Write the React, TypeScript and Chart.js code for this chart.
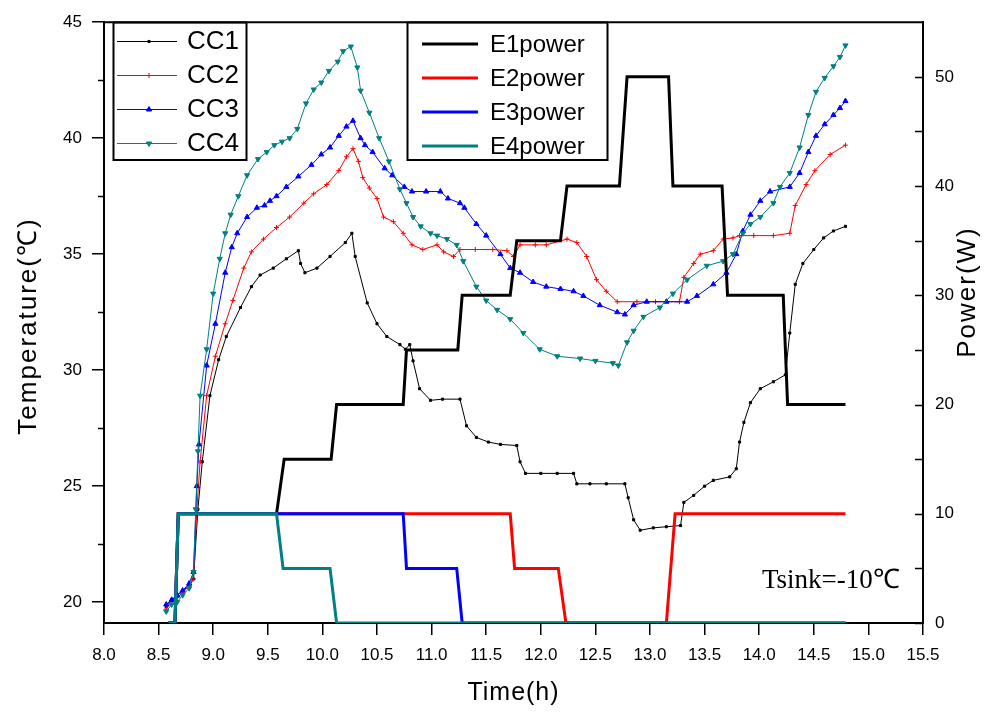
import React, { useEffect, useRef } from "react";
import { Chart, registerables } from "chart.js";
import { drawPoint } from "chart.js/helpers";

Chart.register(...registerables);

// Evaporator temperatures (℃) against time of day (h)
const cc1Time = [8.57, 8.62, 8.67, 8.72, 8.78, 8.82, 8.86, 8.9, 8.97, 9.05, 9.12, 9.25, 9.35, 9.43, 9.55, 9.67, 9.78, 9.8, 9.84, 9.95, 10.07, 10.21, 10.27, 10.3, 10.41, 10.5, 10.59, 10.71, 10.76, 10.8, 10.83, 10.89, 10.99, 11.1, 11.26, 11.32, 11.41, 11.52, 11.63, 11.78, 11.81, 11.86, 12.0, 12.15, 12.3, 12.33, 12.45, 12.6, 12.77, 12.8, 12.85, 12.91, 13.03, 13.15, 13.28, 13.31, 13.4, 13.5, 13.58, 13.73, 13.79, 13.82, 13.86, 13.92, 14.01, 14.13, 14.24, 14.28, 14.33, 14.4, 14.5, 14.59, 14.68, 14.79];
const cc1Temp = [19.8, 20.1, 20.3, 20.5, 20.7, 21.0, 24.0, 26.05, 28.9, 30.45, 31.45, 32.7, 33.6, 34.1, 34.4, 34.8, 35.15, 34.6, 34.2, 34.4, 34.9, 35.5, 35.9, 34.9, 32.9, 32.0, 31.45, 31.1, 30.9, 31.1, 30.4, 29.2, 28.7, 28.75, 28.75, 27.6, 27.1, 26.9, 26.8, 26.75, 26.05, 25.55, 25.55, 25.55, 25.55, 25.1, 25.1, 25.1, 25.1, 24.5, 23.55, 23.1, 23.2, 23.25, 23.3, 24.3, 24.6, 25.0, 25.25, 25.4, 25.75, 26.9, 27.75, 28.6, 29.2, 29.5, 29.8, 31.6, 33.7, 34.6, 35.2, 35.7, 36.0, 36.2];

const cc2Time = [8.57, 8.62, 8.67, 8.72, 8.78, 8.82, 8.85, 8.88, 8.94, 9.02, 9.11, 9.18, 9.28, 9.35, 9.46, 9.58, 9.7, 9.83, 9.92, 10.04, 10.15, 10.22, 10.28, 10.33, 10.37, 10.43, 10.5, 10.56, 10.65, 10.74, 10.82, 10.92, 11.05, 11.11, 11.2, 11.26, 11.4, 11.56, 11.69, 11.75, 11.81, 11.95, 12.05, 12.24, 12.33, 12.42, 12.51, 12.6, 12.7, 12.88, 13.05, 13.27, 13.31, 13.4, 13.46, 13.58, 13.67, 13.76, 13.82, 13.95, 14.13, 14.28, 14.33, 14.43, 14.51, 14.65, 14.79];
const cc2Temp = [19.7, 20.0, 20.2, 20.4, 20.7, 21.0, 24.0, 26.05, 28.9, 30.6, 32.0, 33.0, 34.4, 35.1, 35.65, 36.15, 36.6, 37.2, 37.6, 38.0, 38.6, 39.2, 39.55, 39.0, 38.3, 37.85, 37.4, 36.6, 36.4, 35.9, 35.4, 35.2, 35.4, 35.1, 34.9, 35.2, 35.2, 35.2, 35.15, 34.9, 35.4, 35.4, 35.4, 35.65, 35.5, 34.9, 33.9, 33.4, 32.95, 32.95, 32.95, 32.95, 34.0, 34.6, 35.0, 35.15, 35.65, 35.7, 35.8, 35.8, 35.8, 35.9, 37.1, 38.0, 38.6, 39.3, 39.7];

const cc3Time = [8.57, 8.62, 8.67, 8.72, 8.78, 8.82, 8.85, 8.87, 8.94, 9.02, 9.11, 9.17, 9.22, 9.31, 9.4, 9.47, 9.52, 9.58, 9.67, 9.78, 9.9, 9.99, 10.07, 10.15, 10.22, 10.28, 10.35, 10.39, 10.46, 10.57, 10.64, 10.75, 10.82, 10.95, 11.08, 11.15, 11.26, 11.3, 11.41, 11.5, 11.63, 11.72, 11.81, 11.93, 12.05, 12.18, 12.3, 12.39, 12.54, 12.7, 12.77, 12.85, 12.97, 13.15, 13.34, 13.43, 13.58, 13.7, 13.79, 13.85, 13.92, 14.01, 14.1, 14.28, 14.37, 14.45, 14.52, 14.6, 14.68, 14.74, 14.79];
const cc3Temp = [19.9, 20.1, 20.3, 20.5, 20.8, 21.3, 25.0, 26.8, 30.2, 32.0, 34.2, 35.3, 35.9, 36.6, 37.0, 37.1, 37.3, 37.5, 37.9, 38.35, 38.85, 39.3, 39.6, 40.1, 40.5, 40.75, 40.0, 39.7, 39.4, 38.7, 38.4, 37.9, 37.7, 37.7, 37.7, 37.4, 37.2, 37.0, 36.3, 35.8, 35.0, 34.4, 34.2, 33.8, 33.6, 33.5, 33.4, 33.2, 32.8, 32.5, 32.4, 32.8, 32.95, 32.95, 32.95, 33.2, 33.7, 34.2, 35.0, 36.0, 36.7, 37.3, 37.7, 37.9, 38.5, 39.4, 40.1, 40.6, 41.0, 41.3, 41.6];

const cc4Time = [8.57, 8.62, 8.67, 8.72, 8.78, 8.82, 8.84, 8.86, 8.88, 8.94, 9.0, 9.06, 9.11, 9.16, 9.23, 9.31, 9.41, 9.49, 9.56, 9.63, 9.7, 9.77, 9.85, 9.92, 9.99, 10.06, 10.14, 10.19, 10.26, 10.32, 10.35, 10.43, 10.52, 10.61, 10.71, 10.77, 10.83, 10.9, 10.99, 11.05, 11.14, 11.23, 11.29, 11.41, 11.5, 11.6, 11.72, 11.84, 11.99, 12.15, 12.36, 12.5, 12.66, 12.71, 12.79, 12.85, 12.94, 13.09, 13.21, 13.34, 13.52, 13.67, 13.76, 13.85, 13.92, 14.01, 14.13, 14.19, 14.28, 14.37, 14.45, 14.52, 14.6, 14.68, 14.74, 14.79];
const cc4Temp = [19.6, 19.9, 20.0, 20.3, 20.6, 21.3, 24.0, 26.5, 28.9, 30.9, 33.3, 34.8, 35.9, 36.7, 37.5, 38.4, 39.1, 39.4, 39.7, 39.85, 40.0, 40.4, 41.5, 42.1, 42.4, 42.9, 43.3, 43.75, 43.95, 43.05, 42.05, 41.1, 40.0, 39.0, 37.8, 37.2, 36.6, 36.2, 35.9, 35.8, 35.65, 35.4, 34.7, 33.6, 33.0, 32.6, 32.2, 31.6, 30.9, 30.6, 30.5, 30.4, 30.3, 30.2, 31.2, 31.7, 32.3, 32.7, 33.3, 33.9, 34.5, 34.7, 35.0, 35.9, 36.3, 36.6, 37.2, 37.9, 38.5, 39.6, 41.0, 42.0, 42.6, 43.1, 43.5, 44.0];

// Heater power (W) schedules for the four evaporators
const e1Time = [8.59, 8.65, 8.68, 9.58, 9.65, 10.08, 10.13, 10.74, 10.77, 11.24, 11.28, 11.72, 11.78, 12.18, 12.24, 12.72, 12.79, 13.17, 13.21, 13.66, 13.71, 14.22, 14.26, 14.79];
const e1Power = [0, 0, 10, 10, 15, 15, 20, 20, 25, 25, 30, 30, 35, 35, 40, 40, 50, 50, 40, 40, 30, 30, 20, 20];
const e2Time = [8.59, 8.65, 8.68, 11.72, 11.76, 12.16, 12.23, 13.15, 13.23, 14.79];
const e2Power = [0, 0, 10, 10, 5, 5, 0, 0, 10, 10];
const e3Time = [8.59, 8.65, 8.68, 10.74, 10.77, 11.23, 11.28, 14.79];
const e3Power = [0, 0, 10, 10, 5, 5, 0, 0];
const e4Time = [8.59, 8.65, 8.68, 9.58, 9.64, 10.07, 10.13, 14.79];
const e4Power = [0, 0, 10, 10, 5, 5, 0, 0];

const timeTicks = [8.0, 8.5, 9.0, 9.5, 10.0, 10.5, 11.0, 11.5, 12.0, 12.5, 13.0, 13.5, 14.0, 14.5, 15.0, 15.5];
const tempTicks = [20, 25, 30, 35, 40, 45];
const tempMinorTicks = [22.5, 27.5, 32.5, 37.5, 42.5];
const powerTicks = [0, 10, 20, 30, 40, 50];
const powerMinorTicks = [5, 15, 25, 35, 45];

const ccNames = ["CC1", "CC2", "CC3", "CC4"];
const powerNames = ["E1power", "E2power", "E3power", "E4power"];
const seriesColors = ["#000000", "#ff0000", "#0000ff", "#008080"];
const annotation = "Tsink=-10℃";
const timeTitle = "Time(h)";
const tempTitle = "Temperature(℃)";
const powerTitle = "Power(W)";

const SANS = "'Liberation Sans', Arial, sans-serif";
const SERIF = "'Liberation Serif', 'Times New Roman', serif";

const pairs = (xs: number[], ys: number[]) => xs.map((x, i) => ({ x, y: ys[i] }));

type Marker = { style: any; radius: number; rotation: number };
const ccMarkers: Marker[] = [
  { style: "rect", radius: 1.5, rotation: 0 },
  { style: "cross", radius: 2.5, rotation: 0 },
  { style: "triangle", radius: 3, rotation: 0 },
  { style: "triangle", radius: 3, rotation: 180 },
];

const decorations = {
  id: "decorations",
  afterDraw(chart: any) {
    const { ctx, chartArea } = chart;
    const { left, right, top } = chartArea;
    const yT = chart.scales.y;
    const yP = chart.scales.y1;
    ctx.save();
    ctx.strokeStyle = "#000";
    ctx.fillStyle = "#000";

    // top frame line
    ctx.lineWidth = 2;
    ctx.beginPath();
    ctx.moveTo(left - 1, top);
    ctx.lineTo(right + 1, top);
    ctx.stroke();

    // minor ticks, left axis (outward)
    ctx.lineWidth = 1.5;
    tempMinorTicks.forEach((v) => {
      const py = Math.round(yT.getPixelForValue(v)) + 0.5;
      ctx.beginPath();
      ctx.moveTo(left - 6, py);
      ctx.lineTo(left, py);
      ctx.stroke();
    });
    // right axis ticks (inward)
    powerTicks.concat(powerMinorTicks).forEach((v) => {
      const py = Math.round(yP.getPixelForValue(v)) + 0.5;
      ctx.beginPath();
      ctx.moveTo(right - 8, py);
      ctx.lineTo(right, py);
      ctx.stroke();
    });

    // axis titles
    ctx.textAlign = "center";
    ctx.textBaseline = "middle";
    ctx.font = `25px ${SANS}`;
    (ctx as any).letterSpacing = "1px";
    ctx.fillText(timeTitle, (left + right) / 2, 693);
    ctx.font = `26px ${SANS}`;
    (ctx as any).letterSpacing = "2px";
    ctx.save();
    ctx.translate(29, 326);
    ctx.rotate(-Math.PI / 2);
    ctx.fillText(tempTitle, 0, 0);
    ctx.restore();
    ctx.save();
    ctx.translate(968, 292);
    ctx.rotate(-Math.PI / 2);
    ctx.fillText(powerTitle, 0, 0);
    ctx.restore();
    (ctx as any).letterSpacing = "0px";

    // temperature legend
    const rows = [41, 75, 109, 143];
    ctx.lineWidth = 2;
    ctx.strokeRect(113.5, 22.5, 133, 137.5);
    ctx.font = `26px ${SANS}`;
    ctx.textAlign = "left";
    ccNames.forEach((name, i) => {
      const ry = rows[i];
      ctx.strokeStyle = seriesColors[i];
      ctx.fillStyle = seriesColors[i];
      ctx.lineWidth = 1;
      ctx.beginPath();
      ctx.moveTo(117, ry + 0.5);
      ctx.lineTo(177, ry + 0.5);
      ctx.stroke();
      const m = ccMarkers[i];
      drawPoint(ctx, { pointStyle: m.style, radius: m.radius, rotation: m.rotation, borderWidth: 1 } as any, 149, ry + 0.5);
      ctx.fillStyle = "#000";
      ctx.fillText(name, 187, ry + 1);
    });

    // power legend
    ctx.strokeStyle = "#000";
    ctx.lineWidth = 2;
    ctx.strokeRect(407.5, 22.5, 200, 137.5);
    ctx.font = `24px ${SANS}`;
    powerNames.forEach((name, i) => {
      const ry = rows[i] + 3;
      ctx.strokeStyle = seriesColors[i];
      ctx.lineWidth = 3;
      ctx.beginPath();
      ctx.moveTo(422, ry);
      ctx.lineTo(478, ry);
      ctx.stroke();
      ctx.fillStyle = "#000";
      ctx.fillText(name, 490, ry + 1);
    });

    // sink temperature note
    ctx.font = `27px ${SERIF}`;
    ctx.fillStyle = "#000";
    ctx.textBaseline = "alphabetic";
    ctx.fillText(annotation, 762, 588);
    ctx.restore();
  },
};

export default function App() {
  const canvasRef = useRef<HTMLCanvasElement | null>(null);

  useEffect(() => {
    const canvas = canvasRef.current;
    if (!canvas) return;

    const ccSets = [
      [cc1Time, cc1Temp],
      [cc2Time, cc2Temp],
      [cc3Time, cc3Temp],
      [cc4Time, cc4Temp],
    ].map(([t, v], i) => ({
      label: ccNames[i],
      data: pairs(t, v),
      yAxisID: "y",
      borderColor: seriesColors[i],
      backgroundColor: seriesColors[i],
      borderWidth: 1,
      pointStyle: ccMarkers[i].style,
      pointRadius: ccMarkers[i].radius,
      pointRotation: ccMarkers[i].rotation,
      pointBorderWidth: 1,
      pointBorderColor: seriesColors[i],
      pointBackgroundColor: seriesColors[i],
      tension: 0,
      order: 10 - i,
    }));

    const powerSets = [
      [e1Time, e1Power],
      [e2Time, e2Power],
      [e3Time, e3Power],
      [e4Time, e4Power],
    ].map(([t, v], i) => ({
      label: powerNames[i],
      data: pairs(t, v),
      yAxisID: "y1",
      borderColor: seriesColors[i],
      backgroundColor: seriesColors[i],
      borderWidth: 3,
      pointRadius: 0,
      tension: 0,
      borderJoinStyle: "miter" as const,
      order: 4 - i,
    }));

    const tickFont = { family: SANS, size: 17 };

    const chart = new Chart(canvas, {
      type: "line",
      data: { datasets: [...ccSets, ...powerSets] as any },
      options: {
        animation: false,
        responsive: false,
        maintainAspectRatio: false,
        layout: { padding: { top: 16, left: 0, right: 0, bottom: 0 } },
        plugins: {
          legend: { display: false },
          tooltip: { enabled: false },
        },
        scales: {
          x: {
            type: "linear",
            min: 8,
            max: 15.5,
            afterBuildTicks: (s: any) => {
              s.ticks = timeTicks.map((value) => ({ value }));
            },
            afterFit: (s: any) => {
              s.height = 94;
            },
            ticks: {
              color: "#000",
              font: tickFont,
              padding: 10,
              maxRotation: 0,
              autoSkip: false,
              callback: (v: any) => Number(v).toFixed(1),
            },
            grid: { display: true, drawOnChartArea: false, drawTicks: true, tickLength: 12, color: "#000", lineWidth: 1.5 },
            border: { display: true, color: "#000", width: 2 },
          },
          y: {
            type: "linear",
            position: "left",
            min: 19.1,
            max: 45,
            afterBuildTicks: (s: any) => {
              s.ticks = tempTicks.map((value) => ({ value }));
            },
            afterFit: (s: any) => {
              s.width = 104;
            },
            ticks: { color: "#000", font: tickFont, padding: 10, callback: (v: any) => String(v) },
            grid: { display: true, drawOnChartArea: false, drawTicks: true, tickLength: 12, color: "#000", lineWidth: 1.5 },
            border: { display: true, color: "#000", width: 2 },
          },
          y1: {
            type: "linear",
            position: "right",
            min: 0,
            max: 55,
            afterBuildTicks: (s: any) => {
              s.ticks = powerTicks.map((value) => ({ value }));
            },
            afterFit: (s: any) => {
              s.width = 68;
            },
            ticks: { color: "#000", font: tickFont, padding: 12, callback: (v: any) => String(v) },
            grid: { display: false, drawTicks: false },
            border: { display: true, color: "#000", width: 2 },
          },
        },
      },
      plugins: [decorations],
    });

    return () => chart.destroy();
  }, []);

  return (
    <div style={{ position: "absolute", left: 0, top: 0, width: 991, height: 717, background: "#fff" }}>
      <canvas ref={canvasRef} width={991} height={717} style={{ width: 991, height: 717, display: "block" }} />
    </div>
  );
}
